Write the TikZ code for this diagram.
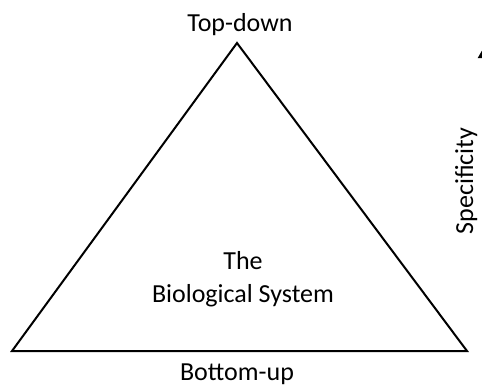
\documentclass[tikz,border=0pt]{standalone}
\usepackage{fontspec}
\setmainfont{Carlito}
\usetikzlibrary{arrows.meta}
\tikzset{
    main triangle/.style={line width=2pt, line join=miter, black},
    label text/.style={font=\fontsize{26}{33}\selectfont, inner sep=0pt, black},
    specificity arrow/.style={line width=2pt, -{Triangle[width=12pt,length=11pt]}}
}

\begin{document}
\begin{tikzpicture}[x=1pt,y=-1pt]
    \useasboundingbox(0,0)rectangle(482,388);
    \coordinate(A)at(237,43);
    \coordinate(B)at(12,351);
    \coordinate(C)at(467,351);
    \draw[main triangle](A)--(B)--(C)--cycle;
    \node[label text,anchor=base](top)at(240,31){Top-down};
    \node[label text,anchor=base](bottom)at(237,380){Bottom-up};
    \node[label text,align=center](system)at(243,279){The\\Biological System};
    % axis on the right, mostly outside the page
    \node[label text,rotate=90,anchor=base](spec)at(473,181){Specificity};
    \coordinate(arrow foot)at(484,340);
    \coordinate(arrow tip)at(484,47);
    \draw[specificity arrow](arrow foot)--(arrow tip);
\end{tikzpicture}
\end{document}
